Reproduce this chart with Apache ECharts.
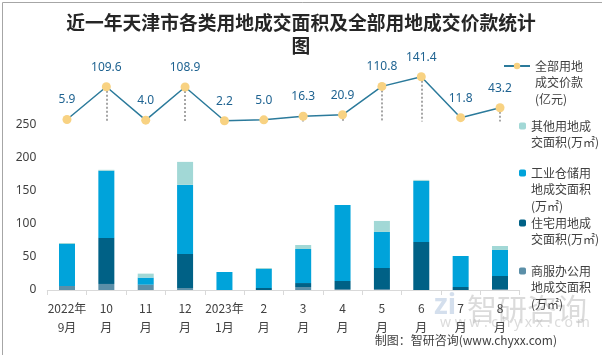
<!DOCTYPE html>
<html>
<head>
<meta charset="utf-8">
<script src="https://cdn.jsdelivr.net/npm/echarts@6/dist/echarts.min.js"></script>
<style>
html,body{margin:0;padding:0;background:#fff;}
#main{width:602px;height:355px;}
</style>
</head>
<body>
<div id="main"></div>
<script>
var categories = ['2022年\n9月','10\n月','11\n月','12\n月','2023年\n1月','2\n月','3\n月','4\n月','5\n月','6\n月','7\n月','8\n月'];
var commercial = [6.0, 9.1, 7.6, 3.0, 0, 0, 4.5, 1.5, 1.5, 0, 0, 1.5];
var residential = [0, 69.5, 0.5, 51.4, 0, 3.0, 6.0, 12.1, 31.7, 72.5, 4.5, 19.6];
var industrial = [63.4, 101.2, 10.6, 104.2, 27.2, 28.7, 51.4, 114.8, 54.4, 92.1, 46.8, 39.3];
var other = [1.5, 1.5, 6.0, 34.7, 0, 1.5, 6.0, 0, 16.6, 1.5, 0, 6.0];
var price = [5.9, 109.6, 4.0, 108.9, 2.2, 5.0, 16.3, 20.9, 110.8, 141.4, 11.8, 43.2];
var yTicks = [0, 50, 100, 150, 200, 250];

var names = {
  price: '全部用地\n成交价款\n(亿元)',
  other: '其他用地成\n交面积(万㎡)',
  industrial: '工业仓储用\n地成交面积\n(万㎡)',
  residential: '住宅用地成\n交面积(万㎡)',
  commercial: '商服办公用\n地成交面积\n(万㎡)'
};
var colors = {
  commercial: '#5B8FA8',
  residential: '#006186',
  industrial: '#00A3DA',
  other: '#A2D8D6'
};

var LH = 16.5;
function legendFor(name, iconY, lines, left, isLine) {
  var pre = '';
  for (var k = 0; k < lines - 1; k++) pre += '\n';
  return {
    data: [name],
    orient: 'vertical',
    left: left,
    top: iconY - (2 * lines - 1) * LH / 2,
    padding: 0,
    itemWidth: isLine ? 26 : 7,
    itemHeight: isLine ? 8 : 7,
    itemGap: 0,
    selectedMode: false,
    formatter: function (n) { return pre + n; },
    textStyle: {
      fontSize: 12,
      color: '#404040',
      lineHeight: LH,
      fontFamily: 'Noto Sans CJK SC'
    }
  };
}

var chart = echarts.init(document.getElementById('main'));
var barCommon = {
  type: 'bar', stack: 'area', barWidth: 16, xAxisIndex: 0, yAxisIndex: 0
};
var option = {
  animation: false,
  backgroundColor: '#fff',
  title: {
    text: '近一年天津市各类用地成交面积及全部用地成交价款统计\n图',
    left: 'center',
    top: 11,
    padding: 0,
    textStyle: {
      fontSize: 18.8, fontWeight: 'bold', color: '#262626',
      lineHeight: 23, fontFamily: 'Noto Sans CJK SC'
    }
  },
  legend: [
    legendFor(names.price, 66, 3, 503, true),
    legendFor(names.other, 126, 2, 519, false),
    legendFor(names.industrial, 173, 3, 519, false),
    legendFor(names.residential, 223, 2, 519, false),
    legendFor(names.commercial, 271, 3, 519, false)
  ],
  grid: [
    { left: 47.3, right: 82.3, top: 124.3, bottom: 65, containLabel: false },
    { left: 47.3, right: 82.3, top: 74, height: 47.4, containLabel: false }
  ],
  xAxis: [
    {
      type: 'category', gridIndex: 0, data: categories,
      axisLine: { lineStyle: { color: '#D9D9D9' } },
      axisTick: { show: true, length: 5, lineStyle: { color: '#D9D9D9' } },
      axisLabel: { color: '#404040', fontSize: 12, lineHeight: 19, margin: 9, interval: 0, fontFamily: 'Noto Sans CJK SC' }
    },
    {
      type: 'category', gridIndex: 1, data: categories,
      axisLine: { show: false }, axisTick: { show: false }, axisLabel: { show: false }
    }
  ],
  yAxis: [
    {
      type: 'value', gridIndex: 0, min: yTicks[0], max: yTicks[yTicks.length - 1], interval: 50,
      axisLine: { show: false }, axisTick: { show: false }, splitLine: { show: false },
      axisLabel: { color: '#404040', fontSize: 12, margin: 11, fontFamily: 'Noto Sans' }
    },
    {
      type: 'value', gridIndex: 1, min: 0, max: 150,
      axisLine: { show: false }, axisTick: { show: false }, splitLine: { show: false },
      axisLabel: { show: false }
    }
  ],
  series: [
    Object.assign({}, barCommon, { name: names.commercial, data: commercial, itemStyle: { color: colors.commercial } }),
    Object.assign({}, barCommon, { name: names.residential, data: residential, itemStyle: { color: colors.residential } }),
    Object.assign({}, barCommon, { name: names.industrial, data: industrial, itemStyle: { color: colors.industrial } }),
    Object.assign({}, barCommon, { name: names.other, data: other, itemStyle: { color: colors.other } }),
    {
      name: names.price, type: 'line', xAxisIndex: 1, yAxisIndex: 1,
      data: price, symbol: 'circle', symbolSize: 9, z: 5,
      lineStyle: { color: '#2B7A9B', width: 1.5 },
      itemStyle: { color: '#F8D282' },
      label: {
        show: true, position: 'top', distance: 9, color: '#1F6391', fontSize: 12,
        fontFamily: 'Noto Sans', formatter: function (p) { return p.value.toFixed(1); }
      },
      markLine: {
        silent: true, symbol: 'none', z: 1,
        label: { show: false },
        lineStyle: { color: '#A6A6A6', type: [2, 2], width: 2 },
        data: price.map(function (v, i) {
          return [{ coord: [i, v] }, { coord: [i, 0] }];
        })
      }
    }
  ],
  graphic: [
    { type: 'rect', left: 0, top: 0, shape: { width: 601, height: 354 }, style: { fill: 'none', stroke: '#A6A6A6', lineWidth: 1 }, z: 100 },
    { type: 'text', left: 467, top: 294, style: { text: '智研咨询', fontSize: 30, fill: 'rgba(190,190,190,0.55)', fontFamily: 'Noto Sans CJK SC' }, z: 0 },
    { type: 'text', left: 440, top: 316, style: { text: 'w w w . c h y x x . c o m', fontSize: 14, fill: 'rgba(190,190,190,0.55)', fontFamily: 'Noto Sans' }, z: 0 },
    { type: 'text', left: 434, top: 292, style: { text: 'zi', fontSize: 28, fontWeight: 'bold', fill: 'rgba(160,185,215,0.45)', fontFamily: 'Noto Sans' }, z: 0 },
    { type: 'text', right: 45, top: 334, style: { text: '制图：智研咨询(www.chyxx.com)', fontSize: 12, fill: '#404040', fontFamily: 'Noto Sans CJK SC' }, z: 10 }
  ]
};
chart.setOption(option);
</script>
</body>
</html>
